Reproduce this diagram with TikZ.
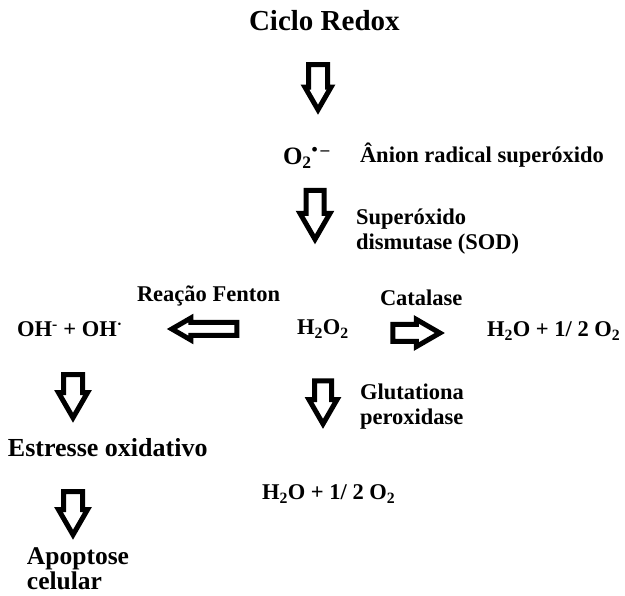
\documentclass[tikz,border=0pt]{standalone}
\usepackage{fontspec}
\setmainfont{Liberation Serif}
\usetikzlibrary{shapes.arrows}
\newcommand\fsz[1]{\fontsize{#1}{#1}\selectfont\bfseries}
\begin{document}
\begin{tikzpicture}[x=1pt,y=-1pt,
  txt/.style={inner sep=0pt, outer sep=0pt, anchor=base west, font=\fsz{22.5}},
  blk/.style n args={3}{single arrow, draw=black, fill=white, line width=5pt,
     inner xsep=0pt, inner ysep=#1, minimum height=#2, minimum width=0pt,
     single arrow head extend=#3, single arrow tip angle=60, outer sep=0pt}]
\useasboundingbox[fill=white] (0,0) rectangle (625,596);
% texts
\node[txt, font=\fsz{29}] (title) at (249,31) {Ciclo Redox};
\node[txt, font=\fsz{25}] (o2) at (283,165) {O\textsubscript{2}\textsuperscript{•\,–}};
\node[txt] (anion) at (360,163) {Ânion radical superóxido};
\node[txt] (sod1) at (356,225) {Superóxido};
\node[txt] (sod2) at (356,250) {dismutase (SOD)};
\node[txt] (fenton) at (137,302) {Reação Fenton};
\node[txt] (cat) at (380,306) {Catalase};
\node[txt] (oh) at (17,337) {OH\textsuperscript{-} + OH\textsuperscript{·}};
\node[txt] (h2o2) at (297,335) {H\textsubscript{2}O\textsubscript{2}};
\node[txt] (h2oR) at (487,337) {H\textsubscript{2}O + 1/ 2 O\textsubscript{2}};
\node[txt] (glu1) at (360,400) {Glutationa};
\node[txt] (glu2) at (360,425) {peroxidase};
\node[txt, font=\fsz{26}] (stress) at (8,457) {Estresse oxidativo};
\node[txt] (h2oB) at (262,500) {H\textsubscript{2}O + 1/ 2 O\textsubscript{2}};
\node[txt, font=\fsz{25.5}] (apo1) at (27,565) {Apoptose};
\node[txt, font=\fsz{25.5}] (apo2) at (27,590) {celular};
% block arrows
\node[blk={7pt}{45pt}{3.5pt}, rotate=-90] (a1) at (318,79) {};
\node[blk={6.5pt}{49pt}{6pt}, rotate=-90] (a2) at (315,207) {};
\node[blk={4pt}{65pt}{4.5pt}, rotate=180] (aL) at (210,329) {};
\node[blk={6pt}{47pt}{5pt}] (aR) at (409,333) {};
\node[blk={6pt}{43pt}{5.5pt}, rotate=-90] (a3) at (323,395) {};
\node[blk={7pt}{43pt}{5pt}, rotate=-90] (a4) at (73,388) {};
\node[blk={7pt}{43pt}{5pt}, rotate=-90] (a5) at (73,505) {};
\end{tikzpicture}
\end{document}
